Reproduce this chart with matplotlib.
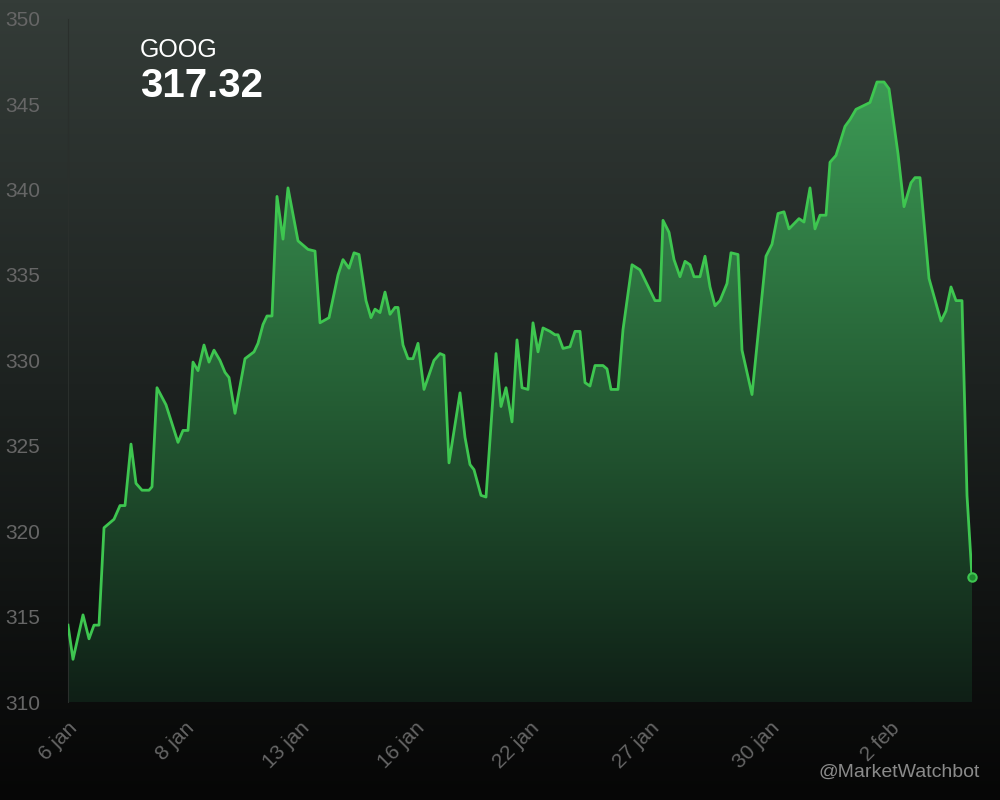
import numpy as np
import matplotlib
matplotlib.use("Agg")
import matplotlib.pyplot as plt
from matplotlib.colors import LinearSegmentedColormap

plt.rcParams['font.family'] = ['Liberation Sans', 'DejaVu Sans']

t = [0,1,3,4.2,5.2,6.2,7.2,9.2,10.4,11.4,12.6,13.6,14.8,16.2,16.8,17.8,19.6,22,23,24,25,26,27.2,28.2,29.2,30.4,31.4,32.2,33.4,35.4,37.2,38,39,39.8,40.8,41.8,43,44,46,48,49.4,50.4,52.2,54,55,56.2,57.2,58.2,59.6,60.6,61.4,62.4,63.4,64.4,65.4,66,67,68,69,70,71.2,73.2,74.4,75.2,76.2,78.4,79.4,80.4,81.2,82.6,83.6,85.6,86.6,87.6,88.8,89.8,90.8,92,93,94,95,96.4,97.4,98,99,100.4,101.4,102.4,103.4,104.4,105.4,107,107.8,108.6,110,111,112.8,114.4,116.4,117.4,118.4,119,120.2,121.2,122.4,123.4,124.4,125.2,126.4,127.4,128.4,129.4,130.4,131.8,132.6,134,134.8,136.8,139.6,140.8,142,143.2,144.2,146.2,147.2,148.4,149.4,150.4,151.6,152.4,153.6,155.4,156.4,157.6,159,160.4,161.8,163.2,164.2,166,167.2,168.6,169.4,170.4,172.2,174.6,175.6,176.6,177.6,178.8,179.8,180.8]
price = [314.5,312.5,315.1,313.7,314.5,314.5,320.2,320.7,321.5,321.5,325.1,322.8,322.4,322.4,322.6,328.4,327.4,325.2,325.9,325.9,329.9,329.4,330.9,329.9,330.6,330.0,329.3,329.0,326.9,330.1,330.5,331.0,332.1,332.6,332.6,339.6,337.1,340.1,337.0,336.5,336.4,332.2,332.5,335.0,335.9,335.4,336.3,336.2,333.5,332.5,333.0,332.8,334.0,332.7,333.1,333.1,330.9,330.1,330.1,331.0,328.3,330.0,330.4,330.3,324.0,328.1,325.5,323.9,323.6,322.1,322.0,330.4,327.3,328.4,326.4,331.2,328.4,328.3,332.2,330.5,331.9,331.7,331.5,331.5,330.7,330.8,331.7,331.7,328.7,328.5,329.7,329.7,329.5,328.3,328.3,331.8,335.6,335.3,334.1,333.5,333.5,338.2,337.5,335.9,334.9,335.8,335.6,334.9,334.9,336.1,334.3,333.2,333.5,334.5,336.3,336.2,330.6,328.0,336.1,336.8,338.6,338.7,337.7,338.3,338.1,340.1,337.7,338.5,338.5,341.6,342.0,343.7,344.1,344.7,344.9,345.1,346.3,346.3,345.9,342.1,339.0,340.4,340.7,340.7,334.8,332.3,332.9,334.3,333.5,333.5,322.1,317.3]
tick_pos = [0,23.4,46.4,69.4,92.4,116.4,140.4,164.4]
tick_labels = ["6 jan","8 jan","13 jan","16 jan","22 jan","27 jan","30 jan","2 feb"]
y_ticks = [310,315,320,325,330,335,340,345,350]
symbol = "GOOG"
last = "317.32"

fig = plt.figure(figsize=(10,8), dpi=100)
bg = fig.add_axes([0,0,1,1]); bg.set_axis_off()
bgcm = LinearSegmentedColormap.from_list("bg", ["#343c38", "#1c211f", "#060606"])
bg.imshow(np.linspace(0,1,256).reshape(-1,1), aspect="auto", cmap=bgcm, extent=[0,1,0,1])
bg.set_xlim(0,1); bg.set_ylim(0,1)

ax = fig.add_axes([0.068, 0.1225, 0.904, 0.854])
ax.patch.set_alpha(0)
ax.set_xlim(0, 180.8); ax.set_ylim(310, 350)
fill = ax.fill_between(t, price, 310, color="none")
gcm = LinearSegmentedColormap.from_list("g", ["#3c9a55", "#255f35", "#0f1f16"])
im = ax.imshow(np.linspace(0,1,256).reshape(-1,1), aspect="auto", cmap=gcm,
               extent=[0,180.8,310,346.3], zorder=1)
path = fill.get_paths()[0]
im.set_clip_path(path, transform=ax.transData)
ax.plot(t, price, color="#3ec650", lw=2, zorder=3)
ax.plot(t[-1], price[-1], "o", ms=6, color="#1f8a30", mec="#3ec650", mew=1.5, zorder=4, clip_on=False)

for s in ["top","right","bottom"]:
    ax.spines[s].set_visible(False)
ax.spines["left"].set_color("#2a2f2c")
ax.set_yticks(y_ticks)
ax.set_yticklabels([str(v) for v in y_ticks], color="#666666", fontsize=15)
ax.tick_params(axis="y", length=0, pad=45)
for lb in ax.get_yticklabels():
    lb.set_ha("left")
ax.set_xticks(tick_pos)
ax.set_xticklabels(tick_labels, rotation=45, ha="right", va="top", rotation_mode="anchor",
                   color="#666666", fontsize=15)
ax.tick_params(axis="x", length=0, pad=12)

fig.text(0.14, 0.937, symbol, color="white", fontsize=18, va="center")
fig.text(0.14, 0.893, last, color="white", fontsize=29, fontweight="bold", va="center")
fig.text(0.98, 0.035, "@MarketWatchbot", color="#8a8a8a", fontsize=14, ha="right", va="center")

fig.savefig("out.png", dpi=100)
